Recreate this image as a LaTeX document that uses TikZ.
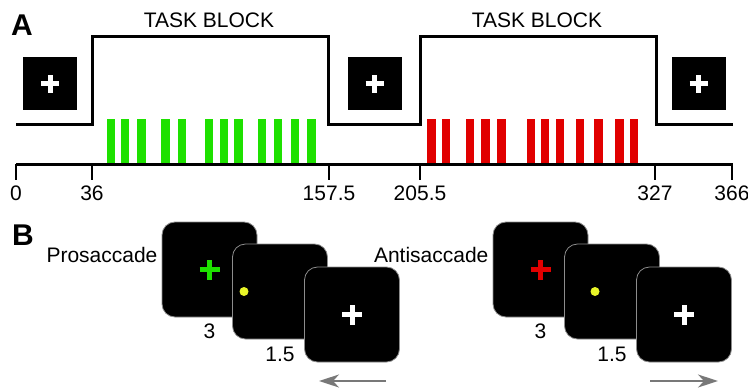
\documentclass[tikz,border=0pt]{standalone}
\usepackage{fontspec}
\setmainfont{Liberation Sans}
\usetikzlibrary{positioning,arrows.meta}

\definecolor{barGreen}{RGB}{30,225,0}
\definecolor{barRed}{RGB}{225,0,0}
\definecolor{dotYellow}{RGB}{232,245,40}
\definecolor{frameGray}{RGB}{140,140,140}
\definecolor{arrowGray}{RGB}{120,120,120}

\newcommand{\drawcross}[3]{%
    \draw[#1, line width=5pt] ([xshift=-#3]#2.center) -- ([xshift=#3]#2.center)
        ([yshift=-#3]#2.center) -- ([yshift=#3]#2.center);}

\begin{document}
\begin{tikzpicture}[x=1pt, y=-1pt, font=\fontsize{21}{25}\selectfont]
    \tikzstyle{every node}=[inner sep=0pt];
    \tikzstyle{fixbox}=[fill=black, minimum width=54pt, minimum height=53pt];
    \tikzstyle{screen}=[fill=black, draw=frameGray, line width=0.8pt, rounded corners=13pt, minimum size=95pt];
    \tikzstyle{trace}=[line width=3pt];
    \tikzstyle{trial}=[line width=2pt, arrowGray, -{Stealth[length=20pt, width=13pt, inset=6pt]}];
    \tikzstyle{panel}=[anchor=base west, font=\fontsize{30}{34}\selectfont\bfseries];

    \useasboundingbox (0,0) rectangle (748,389);

    \node at (11, 35)  (labA) [panel] {A};
    \node at (12, 245) (labB) [panel] {B};

    \node at (209, 27.5) (taskA) [anchor=base] {TASK BLOCK};
    \node at (537, 27.5) (taskB) [anchor=base] {TASK BLOCK};

    \draw[trace] (16,124) -- (92,124) -- (92,36) -- (328,36) -- (328,124)
        -- (420,124) -- (420,36) -- (656,36) -- (656,124) -- (733,124);

    \node at ( 50.0, 83.5) (fixA) [fixbox] {};
    \node at (374.5, 83.5) (fixB) [fixbox] {};
    \node at (698.5, 83.5) (fixC) [fixbox] {};
    \drawcross{white}{fixA}{9pt}
    \drawcross{white}{fixB}{9pt}
    \drawcross{white}{fixC}{9pt}

    \foreach \x in {106.7, 121, 137.3, 161.3, 177.7, 205, 219.7, 234.3, 257.7, 274, 291, 307.3}
        \fill[barGreen] (\x,119) rectangle ++(8.3,44);
    \foreach \x in {427.3, 441.7, 466, 481.3, 497.3, 526.7, 541, 555.7, 575.7, 594.3, 615.3, 630}
        \fill[barRed] (\x,119) rectangle ++(8.3,44);

    \draw[trace] (16,164) -- (733,164);
    \foreach \x/\t [count=\i] in {16/0, 92/36, 329/157.5, 420/205.5, 655/327, 732/366} {
        \draw[line width=2pt] (\x,164) -- (\x,180);
        \node at (\x, 200) (tick\i) [anchor=base] {\t};
    }

    \node at (209.5, 269.5) (pro1) [screen] {};
    \node at (280.0, 291.5) (pro2) [screen] {};
    \node at (352.0, 314.5) (pro3) [screen] {};
    \drawcross{barGreen}{pro1}{10pt}
    \fill[dotYellow] ([xshift=-36pt]pro2.center) circle (4.5pt);
    \drawcross{white}{pro3}{10pt}
    \node [below=6pt of pro1] (proT1) {3};
    \node [below=7pt of pro2] (proT2) {1.5};
    \node at ([xshift=-4pt, yshift=7.5pt]pro1.west) (proName) [anchor=base east] {Prosaccade};

    \node at (540.5, 269.5) (anti1) [screen] {};
    \node at (612.0, 291.5) (anti2) [screen] {};
    \node at (684.0, 314.5) (anti3) [screen] {};
    \drawcross{barRed}{anti1}{10pt}
    \fill[dotYellow] ([xshift=-17pt]anti2.center) circle (4.5pt);
    \drawcross{white}{anti3}{10pt}
    \node [below=6pt of anti1] (antiT1) {3};
    \node [below=7pt of anti2] (antiT2) {1.5};
    \node at ([xshift=-4pt, yshift=7.5pt]anti1.west) (antiName) [anchor=base east] {Antisaccade};

    \coordinate (proS)  at (386, 381);
    \coordinate (proE)  at (319, 381);
    \coordinate (antiS) at (650, 381);
    \coordinate (antiE) at (718, 381);
    \draw[trial] (proS) -- (proE);
    \draw[trial] (antiS) -- (antiE);
\end{tikzpicture}
\end{document}
